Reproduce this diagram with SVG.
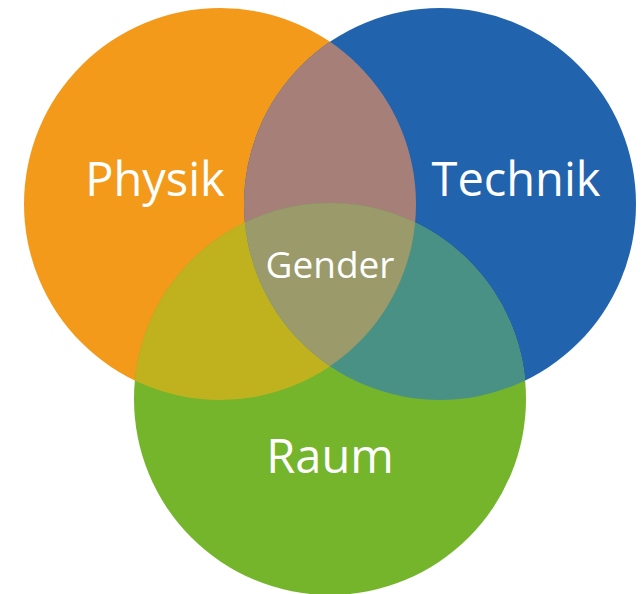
<svg xmlns="http://www.w3.org/2000/svg" width="641" height="594" viewBox="0 0 641 594">
<style>
.lbl{font-family:"Open Sans","Noto Sans","Liberation Sans",sans-serif;fill:#ffffff;text-anchor:middle}
.big{font-size:47px}
.mid{font-size:37px}
</style>
<defs>
<clipPath id="cO"><circle cx="220" cy="204" r="196"/></clipPath>
<clipPath id="cB"><circle cx="440" cy="204" r="196"/></clipPath>
</defs>
<rect width="641" height="594" fill="#ffffff"/>
<g id="physik">
<circle cx="220" cy="204" r="196" fill="#F39A1B"/>
</g>
<g id="technik">
<circle cx="440" cy="204" r="196" fill="#2163AD"/>
</g>
<g id="raum">
<circle cx="330" cy="399" r="196" fill="#74B52C"/>
</g>
<g id="overlaps">
<circle cx="440" cy="204" r="196" fill="#A67F79" clip-path="url(#cO)"/>
<circle cx="330" cy="399" r="196" fill="#C0B21F" clip-path="url(#cO)"/>
<circle cx="330" cy="399" r="196" fill="#4A9185" clip-path="url(#cB)"/>
<g clip-path="url(#cO)"><circle cx="330" cy="399" r="196" fill="#9B9A6A" clip-path="url(#cB)"/></g>
</g>
<g id="labels">
<text class="lbl big" x="155" y="196">Physik</text>
<text class="lbl big" x="516" y="196">Technik</text>
<text class="lbl mid" x="330" y="278">Gender</text>
<text class="lbl big" x="330" y="473">Raum</text>
</g>
</svg>
